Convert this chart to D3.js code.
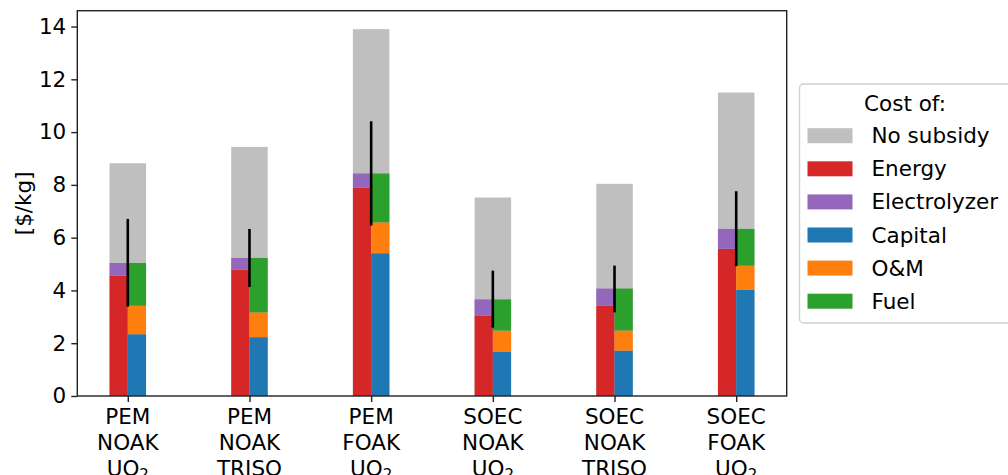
<!DOCTYPE html>
<html>
    <head>
        <meta http-equiv="Content-Type" content="text/html;charset=utf-8">
        <script src="https://d3js.org/d3.v7.min.js"></script>
        <title>Hydrogen cost</title>
        <style>
            body { margin:0; background:#fff; }
            text { font-family:"DejaVu Sans", sans-serif; fill:#000; }
        </style>
    </head>
    <body>
        <svg width="1008" height="475"></svg>
    </body>
    <script>
        // values, $/kg
        var categories = [["PEM","NOAK","UO"], ["PEM","NOAK","TRISO"], ["PEM","FOAK","UO"],
                          ["SOEC","NOAK","UO"], ["SOEC","NOAK","TRISO"], ["SOEC","FOAK","UO"]];
        var noSubsidy    = [8.82, 9.44, 13.9, 7.52, 8.04, 11.5];
        var energy       = [4.56, 4.78, 7.90, 3.05, 3.42, 5.58];
        var electrolyzer = [0.48, 0.45, 0.53, 0.61, 0.65, 0.75];
        var capital      = [2.34, 2.23, 5.41, 1.68, 1.72, 4.02];
        var om           = [1.08, 0.94, 1.17, 0.80, 0.76, 0.92];
        var fuel         = [1.62, 2.06, 1.85, 1.18, 1.59, 1.39];
        var errLow       = [3.39, 4.13, 6.46, 2.59, 3.17, 4.92];
        var errHigh      = [6.71, 6.33, 10.41, 4.75, 4.94, 7.76];
        var yTicks       = [0, 2, 4, 6, 8, 10, 12, 14];

        var legendItems = [
            {label:"No subsidy", color:"#bfbfbf"},
            {label:"Energy", color:"#d62728"},
            {label:"Electrolyzer", color:"#9467bd"},
            {label:"Capital", color:"#1f77b4"},
            {label:"O&M", color:"#ff7f0e"},
            {label:"Fuel", color:"#2ca02c"}
        ];

        var fs = "21.5px";
        var plotL = 77.3, plotR = 786.7, plotT = 10.7, plotB = 396;
        var svg = d3.select("svg");

        var x = d3.scaleLinear().domain([-0.415, 5.415]).range([plotL, plotR]);
        var y = d3.scaleLinear().domain([0, 14.6]).range([plotB, plotT]);
        var idx = d3.range(categories.length);
        var w = 0.15;

        // background gray bars
        svg.append("g").selectAll("rect")
            .data(idx).enter().append("rect")
                .attr("x", function(i){ return x(i - w); })
                .attr("width", 2 * (x(w) - x(0)))
                .attr("y", function(i){ return y(noSubsidy[i]); })
                .attr("height", function(i){ return y(0) - y(noSubsidy[i]); })
                .attr("fill", "#bfbfbf");

        // left stack: energy + electrolyzer ; right stack: capital + O&M + fuel
        function stack(series, colors, offset){
            var g = svg.append("g");
            idx.forEach(function(i){
                var base = 0;
                series.forEach(function(s, k){
                    g.append("rect")
                        .attr("x", x(i + offset))
                        .attr("width", x(w) - x(0))
                        .attr("y", y(base + s[i]))
                        .attr("height", y(base) - y(base + s[i]))
                        .attr("fill", colors[k]);
                    base += s[i];
                });
            });
        }
        stack([energy, electrolyzer], ["#d62728", "#9467bd"], -w);
        stack([capital, om, fuel], ["#1f77b4", "#ff7f0e", "#2ca02c"], 0);

        // error bars
        svg.append("g").selectAll("line")
            .data(idx).enter().append("line")
                .attr("x1", function(i){ return x(i); })
                .attr("x2", function(i){ return x(i); })
                .attr("y1", function(i){ return y(errLow[i]); })
                .attr("y2", function(i){ return y(errHigh[i]); })
                .attr("stroke", "#000")
                .attr("stroke-width", 2.6);

        // frame
        svg.append("rect")
            .attr("x", plotL).attr("y", plotT)
            .attr("width", plotR - plotL).attr("height", plotB - plotT)
            .attr("fill", "none").attr("stroke", "#222").attr("stroke-width", 1.4);

        // y axis
        var yAxis = svg.append("g")
            .attr("transform", "translate(" + plotL + ",0)")
            .call(d3.axisLeft(y).tickValues(yTicks).tickSize(6).tickPadding(5));
        yAxis.select(".domain").remove();
        yAxis.selectAll("line").attr("stroke", "#222").attr("stroke-width", 1.4);
        yAxis.selectAll("text").style("font-size", fs).style("font-family", "DejaVu Sans");

        // x axis
        var xAxis = svg.append("g")
            .attr("transform", "translate(0," + plotB + ")")
            .call(d3.axisBottom(x).tickValues(idx).tickSize(6).tickFormat(""));
        xAxis.select(".domain").remove();
        xAxis.selectAll("line").attr("stroke", "#222").attr("stroke-width", 1.4);

        idx.forEach(function(i){
            var t = svg.append("text")
                .attr("x", x(i))
                .attr("y", plotB + 28)
                .attr("text-anchor", "middle")
                .style("font-size", fs);
            categories[i].forEach(function(line, k){
                t.append("tspan").attr("x", x(i)).attr("dy", k == 0 ? 0 : 26).text(line);
                if (k == 2 && line == "UO"){
                    t.append("tspan").attr("dy", 4).style("font-size", "15px").text("2");
                }
            });
        });

        // y label
        svg.append("text")
            .attr("transform", "translate(31," + ((plotT + plotB) / 2) + ") rotate(-90)")
            .attr("text-anchor", "middle")
            .style("font-size", fs)
            .text("[$/kg]");

        // legend
        var lg = svg.append("g");
        lg.append("rect")
            .attr("x", 799.5).attr("y", 84)
            .attr("width", 230).attr("height", 239)
            .attr("rx", 4)
            .attr("fill", "#fff").attr("stroke", "#d0d0d0").attr("stroke-width", 1.4);
        lg.append("text")
            .attr("x", 905).attr("y", 111)
            .attr("text-anchor", "middle")
            .style("font-size", fs)
            .text("Cost of:");
        legendItems.forEach(function(d, k){
            var cy = 135.7 + k * 33.1;
            lg.append("rect")
                .attr("x", 807.5).attr("y", cy - 7.5)
                .attr("width", 45).attr("height", 15)
                .attr("fill", d.color);
            lg.append("text")
                .attr("x", 871.5).attr("y", cy + 7.5)
                .style("font-size", fs)
                .text(d.label);
        });
    </script>
</html>
